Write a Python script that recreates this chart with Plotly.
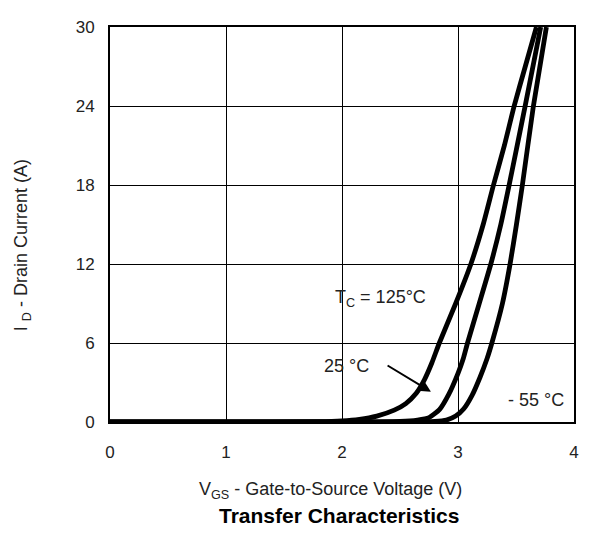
import plotly.graph_objects as go

# Data
vgs_125 = [0, 1.0, 1.8, 2.0, 2.15, 2.3, 2.45, 2.55, 2.64, 2.71, 2.775, 2.839, 2.98, 3.111, 3.217, 3.306, 3.40, 3.484, 3.58, 3.676]
id_125 = [0, 0, 0.02, 0.08, 0.2, 0.45, 0.9, 1.4, 2.18, 3.2, 4.5, 6, 9, 12, 15, 18, 21, 24, 27, 30]

vgs_25 = [0, 2.0, 2.5, 2.65, 2.75, 2.84, 2.92, 3.0, 3.045, 3.082, 3.183, 3.283, 3.369, 3.441, 3.579, 3.713]
id_25 = [0, 0, 0.05, 0.15, 0.33, 0.94, 2.1, 3.7, 4.8, 6, 9, 12, 15, 18, 24, 30]

vgs_m55 = [0, 2.5, 2.8, 2.9, 2.98, 3.05, 3.12, 3.19, 3.25, 3.292, 3.383, 3.449, 3.504, 3.555, 3.65, 3.762]
id_m55 = [0, 0, 0.05, 0.15, 0.45, 1.0, 2.0, 3.4, 4.8, 6, 9, 12, 15, 18, 24, 30]

x_ticks = [0, 1, 2, 3, 4]
y_ticks = [0, 6, 12, 18, 24, 30]

FONT = "Liberation Sans, Arial, Helvetica, sans-serif"
TXT = "#222222"

# page has an 8px body margin; figure sized to fit the window
W, H = 581, 525
L, R, T, B = 102, 14, 10, 111
PW, PH = W - L - R, H - T - B


def px(X, Y):
    """page pixel -> paper coords"""
    return (X - 8 - L) / PW, (H - (Y - 8) - B) / PH


fig = go.Figure()
for xs, ys in [(vgs_125, id_125), (vgs_25, id_25), (vgs_m55, id_m55)]:
    fig.add_trace(go.Scatter(x=xs, y=ys, mode="lines",
                             line=dict(color="black", width=4.8, shape="spline", smoothing=0.5),
                             showlegend=False, hoverinfo="skip"))

fig.update_layout(
    width=W, height=H,
    margin=dict(l=L, r=R, t=T, b=B),
    paper_bgcolor="white", plot_bgcolor="white",
    font=dict(family=FONT, size=17, color=TXT),
    showlegend=False,
)
fig.update_xaxes(range=[0, 4], tickvals=x_ticks, showgrid=True, gridcolor="black", gridwidth=1,
                 showline=True, linecolor="black", linewidth=2, mirror=True, ticks="",
                 zeroline=False, ticklabelstandoff=14, tickfont=dict(size=17, color=TXT))
fig.update_yaxes(range=[0, 30], tickvals=y_ticks, showgrid=True, gridcolor="black", gridwidth=1,
                 showline=True, linecolor="black", linewidth=2, mirror=True, ticks="",
                 zeroline=False, ticklabelstandoff=10, tickfont=dict(size=17, color=TXT))

xt, yt = px(331, 492)
xb, yb = px(339.5, 518)
xy, yy = px(22, 241)
anns = [
    dict(x=1.92, y=9.35, xref="x", yref="y", text="T<sub>C</sub> = 125°C", showarrow=False,
         xanchor="left", yanchor="middle", font=dict(size=18, color=TXT)),
    dict(x=1.83, y=4.28, xref="x", yref="y", text="25 °C", showarrow=False,
         xanchor="left", yanchor="middle", font=dict(size=18, color=TXT)),
    dict(x=3.41, y=1.68, xref="x", yref="y", text="- 55 °C", showarrow=False,
         xanchor="left", yanchor="middle", font=dict(size=18, color=TXT)),
    dict(x=2.767, y=2.30, xref="x", yref="y", ax=2.38, ay=4.36, axref="x", ayref="y",
         text="", showarrow=True, arrowhead=2, arrowsize=1.2, arrowwidth=2, arrowcolor="black"),
    dict(x=xt, y=yt, xref="paper", yref="paper", text="V<sub>GS</sub> - Gate-to-Source Voltage (V)",
         showarrow=False, xanchor="center", yanchor="middle", font=dict(size=18, color=TXT)),
    dict(x=xb, y=yb, xref="paper", yref="paper", text="<b>Transfer Characteristics</b>",
         showarrow=False, xanchor="center", yanchor="middle", font=dict(size=21, color="black")),
    dict(x=xy, y=yy, xref="paper", yref="paper", text="I <sub>D</sub> - Drain Current (A)",
         showarrow=False, xanchor="center", yanchor="middle", textangle=-90, font=dict(size=18, color=TXT)),
]
fig.update_layout(annotations=anns)

fig.write_html("out.html")
